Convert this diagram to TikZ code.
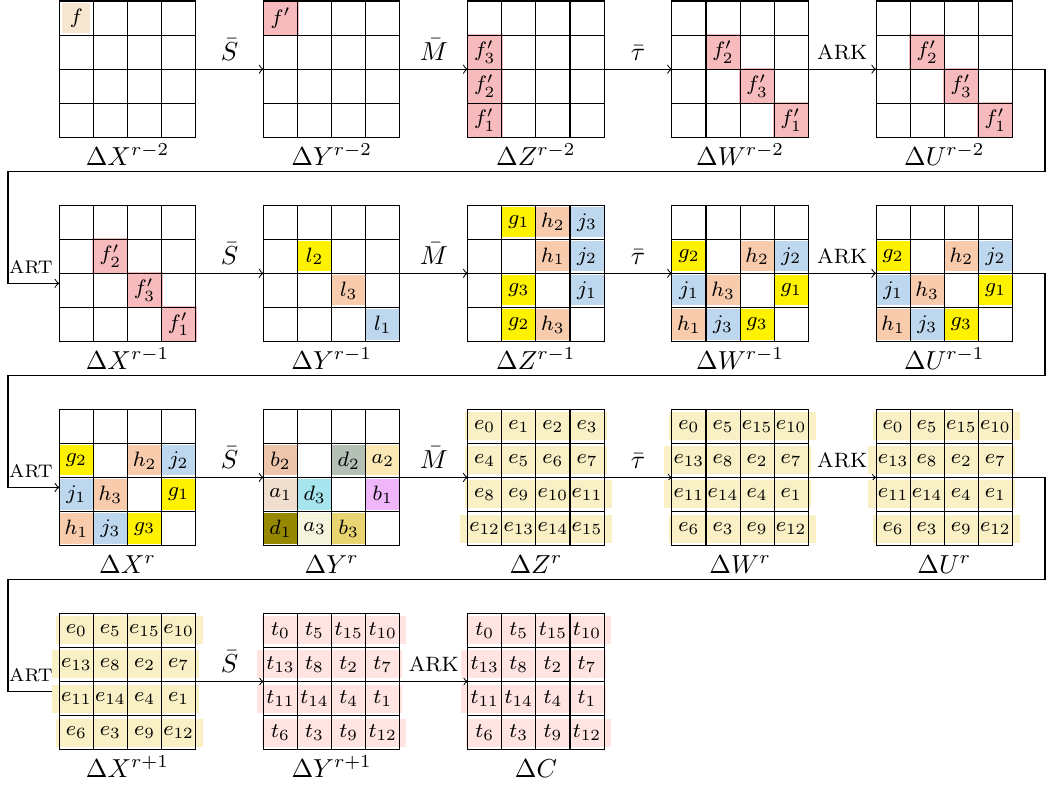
\documentclass[tikz,border=0pt]{standalone}
\usetikzlibrary{calc}
\pgfdeclarelayer{arrowlayer}
\pgfdeclarelayer{filllayer}
\pgfdeclarelayer{linelayer}
\pgfsetlayers{arrowlayer,filllayer,linelayer,main}
\definecolor{fbeige}{RGB}{248,231,208}
\definecolor{fpink}{RGB}{247,187,190}
\definecolor{gyel}{RGB}{255,242,0}
\definecolor{hpea}{RGB}{248,203,173}
\definecolor{jblu}{RGB}{189,215,238}
\definecolor{efil}{RGB}{250,240,197}
\definecolor{tfil}{RGB}{255,228,225}
\definecolor{cbtwo}{RGB}{236,197,170}
\definecolor{cdtwo}{RGB}{180,191,181}
\definecolor{catwo}{RGB}{252,232,180}
\definecolor{caone}{RGB}{240,222,207}
\definecolor{cdthree}{RGB}{166,228,238}
\definecolor{cbone}{RGB}{240,182,250}
\definecolor{cdone}{RGB}{150,136,0}
\definecolor{cathree}{RGB}{245,245,222}
\definecolor{cbthree}{RGB}{232,212,112}
\tikzset{
  gridbox/.style={draw=none, minimum size=52.46pt, inner sep=0pt, outer sep=0pt},
  gline/.style={line width=0.45pt, black},
  arr/.style={->, line width=0.4pt},
  oplab/.style={inner sep=0pt, font=\normalsize},
  arklab/.style={inner sep=0pt, font=\footnotesize},
  artlab/.style={inner sep=0pt, font=\scriptsize},
  glab/.style={inner sep=0pt, anchor=base, font=\normalsize},
  celltext/.style={inner sep=0pt, font=\footnotesize},
  ff/.style={fill=fbeige, draw=none, inner sep=0pt, minimum width=10.8pt, minimum height=11.2pt, font=\footnotesize},
  pf/.style={fill=fpink, draw=none, inner sep=0pt, minimum size=13.85pt, font=\footnotesize},
  cf/.style={fill=#1, draw=none, inner sep=0pt, minimum width=13.5pt, minimum height=11.6pt, font=\footnotesize},
  ef/.style={fill=#1, draw=none, inner xsep=3.6pt, inner ysep=0pt, minimum height=10.8pt, font=\footnotesize},
}
\newcommand\MyGrid[4]{%
  \node[gridbox] (#1) at ({127.5+204.2*#3},{69.2+204.1*#2}) {};
  \node[glab] (#1-l) at ({127.5+204.2*#3},{165+204.1*#2}) {$#4$};
}
\newcommand\MyLines[1]{%
  \draw[gline] (#1.north west) rectangle (#1.south east);
  \foreach \k in {1,2,3} {
    \draw[gline] ($(#1.north west)!\k/4!(#1.north east)$) -- ($(#1.south west)!\k/4!(#1.south east)$);
    \draw[gline] ($(#1.north west)!\k/4!(#1.south west)$) -- ($(#1.north east)!\k/4!(#1.south east)$);
  }
}
\newcommand\CellF[5]{%
  \begin{pgfonlayer}{filllayer}
  \node[#4] (#1-#2#3-f) at ($(#1.north west)+({34.1*(#3+0.5)},{34.1*(#2+0.5)})$) {\phantom{#5}};
  \end{pgfonlayer}
  \node[celltext] (#1-#2#3) at (#1-#2#3-f.center) {#5};
}
\begin{document}
\begin{tikzpicture}[x=0.3846pt, y=-0.3846pt]
\useasboundingbox (0,0) rectangle (1046,787);
% grids
\MyGrid{X0}{0}{0}{\Delta X^{r-2}}
\MyGrid{Y0}{0}{1}{\Delta Y^{r-2}}
\MyGrid{Z0}{0}{2}{\Delta Z^{r-2}}
\MyGrid{W0}{0}{3}{\Delta W^{r-2}}
\MyGrid{U0}{0}{4}{\Delta U^{r-2}}
\MyGrid{X1}{1}{0}{\Delta X^{r-1}}
\MyGrid{Y1}{1}{1}{\Delta Y^{r-1}}
\MyGrid{Z1}{1}{2}{\Delta Z^{r-1}}
\MyGrid{W1}{1}{3}{\Delta W^{r-1}}
\MyGrid{U1}{1}{4}{\Delta U^{r-1}}
\MyGrid{X2}{2}{0}{\Delta X^{r}}
\MyGrid{Y2}{2}{1}{\Delta Y^{r}}
\MyGrid{Z2}{2}{2}{\Delta Z^{r}}
\MyGrid{W2}{2}{3}{\Delta W^{r}}
\MyGrid{U2}{2}{4}{\Delta U^{r}}
\MyGrid{X3}{3}{0}{\Delta X^{r+1}}
\MyGrid{Y3}{3}{1}{\Delta Y^{r+1}}
\MyGrid{C3}{3}{2}{\Delta C}
% arrows
\begin{pgfonlayer}{arrowlayer}
\foreach \r in {0,1,2} {
  \draw[arr] (X\r.east) -- (Y\r.west);
  \draw[arr] (Y\r.east) -- (Z\r.west);
  \draw[arr] (Z\r.east) -- (W\r.west);
  \draw[arr] (W\r.east) -- (U\r.west);
}
\draw[arr] (X3.east) -- (Y3.west);
\draw[arr] (Y3.east) -- (C3.west);
\coordinate (w0r) at (1045,171.2);
\coordinate (w0l) at (8,171.2);
\coordinate (w1r) at (1045,375.4);
\coordinate (w1l) at (8,375.4);
\coordinate (w2r) at (1045,579.4);
\coordinate (w2l) at (8,579.4);
\draw[arr] (U0.east) -| (w0r) -- (w0l) |- ([yshift=-3.85pt]X1.west);
\draw[arr] (U1.east) -| (w1r) -- (w1l) |- ([yshift=-3.85pt]X2.west);
\draw[arr] (U2.east) -| (w2r) -- (w2l) |- ([yshift=-3.85pt]X3.west);
\end{pgfonlayer}
\foreach \r in {0,1,2} {
  \node[oplab, anchor=south] (s\r) at ($(X\r.east)!0.5!(Y\r.west)+(0,-8.5)$) {$\bar{S}$};
  \node[oplab, anchor=south] (m\r) at ($(Y\r.east)!0.5!(Z\r.west)+(0,-8.5)$) {$\bar{M}$};
  \node[oplab, anchor=south] (t\r) at ($(Z\r.east)!0.5!(W\r.west)+(0,-8.5)$) {$\bar{\tau}$};
  \node[arklab, anchor=south] (k\r) at ($(W\r.east)!0.5!(U\r.west)+(0,-8.8)$) {ARK};
}
\node[oplab, anchor=south] (s3) at ($(X3.east)!0.5!(Y3.west)+(0,-8.5)$) {$\bar{S}$};
\node[arklab, anchor=south] (k3) at ($(Y3.east)!0.5!(C3.west)+(0,-8.8)$) {ARK};
\node[artlab, anchor=base east] (a1) at ([xshift=-2.3pt]X1.west) {ART};
\node[artlab, anchor=base east] (a2) at ([xshift=-2.3pt]X2.west) {ART};
\node[artlab, anchor=base east] (a3) at ([xshift=-2.3pt]X3.west) {ART};
% fills row r-2
\CellF{X0}{0}{0}{ff}{$f$}
\CellF{Y0}{0}{0}{pf}{$f'$}
\CellF{Z0}{1}{0}{pf}{$f'_3$}
\CellF{Z0}{2}{0}{pf}{$f'_2$}
\CellF{Z0}{3}{0}{pf}{$f'_1$}
\foreach \g in {W0,U0,X1} {
  \CellF{\g}{1}{1}{pf}{$f'_2$}
  \CellF{\g}{2}{2}{pf}{$f'_3$}
  \CellF{\g}{3}{3}{pf}{$f'_1$}
}
% row r-1
\CellF{Y1}{1}{1}{cf=gyel}{$l_2$}
\CellF{Y1}{2}{2}{cf=hpea}{$l_3$}
\CellF{Y1}{3}{3}{cf=jblu}{$l_1$}
\CellF{Z1}{0}{1}{cf=gyel}{$g_1$}
\CellF{Z1}{0}{2}{cf=hpea}{$h_2$}
\CellF{Z1}{0}{3}{cf=jblu}{$j_3$}
\CellF{Z1}{1}{2}{cf=hpea}{$h_1$}
\CellF{Z1}{1}{3}{cf=jblu}{$j_2$}
\CellF{Z1}{2}{1}{cf=gyel}{$g_3$}
\CellF{Z1}{2}{3}{cf=jblu}{$j_1$}
\CellF{Z1}{3}{1}{cf=gyel}{$g_2$}
\CellF{Z1}{3}{2}{cf=hpea}{$h_3$}
\foreach \g in {W1,U1,X2} {
  \CellF{\g}{1}{0}{cf=gyel}{$g_2$}
  \CellF{\g}{1}{2}{cf=hpea}{$h_2$}
  \CellF{\g}{1}{3}{cf=jblu}{$j_2$}
  \CellF{\g}{2}{0}{cf=jblu}{$j_1$}
  \CellF{\g}{2}{1}{cf=hpea}{$h_3$}
  \CellF{\g}{2}{3}{cf=gyel}{$g_1$}
  \CellF{\g}{3}{0}{cf=hpea}{$h_1$}
  \CellF{\g}{3}{1}{cf=jblu}{$j_3$}
  \CellF{\g}{3}{2}{cf=gyel}{$g_3$}
}
% row r
\CellF{Y2}{1}{0}{cf=cbtwo}{$b_2$}
\CellF{Y2}{1}{2}{cf=cdtwo}{$d_2$}
\CellF{Y2}{1}{3}{cf=catwo}{$a_2$}
\CellF{Y2}{2}{0}{cf=caone}{$a_1$}
\CellF{Y2}{2}{1}{cf=cdthree}{$d_3$}
\CellF{Y2}{2}{3}{cf=cbone}{$b_1$}
\CellF{Y2}{3}{0}{cf=cdone}{$d_1$}
\CellF{Y2}{3}{1}{cf=cathree}{$a_3$}
\CellF{Y2}{3}{2}{cf=cbthree}{$b_3$}
\foreach \v [count=\n from 0] in {0,1,2,3,4,5,6,7,8,9,10,11,12,13,14,15} {
  \pgfmathtruncatemacro\ii{floor(\n/4)}
  \pgfmathtruncatemacro\jj{mod(\n,4)}
  \CellF{Z2}{\ii}{\jj}{ef=efil}{$e_{\v}$}
}
\foreach \g in {W2,U2,X3} {
  \foreach \v [count=\n from 0] in {0,5,15,10,13,8,2,7,11,14,4,1,6,3,9,12} {
    \pgfmathtruncatemacro\ii{floor(\n/4)}
    \pgfmathtruncatemacro\jj{mod(\n,4)}
    \CellF{\g}{\ii}{\jj}{ef=efil}{$e_{\v}$}
  }
}
\foreach \g in {Y3,C3} {
  \foreach \v [count=\n from 0] in {0,5,15,10,13,8,2,7,11,14,4,1,6,3,9,12} {
    \pgfmathtruncatemacro\ii{floor(\n/4)}
    \pgfmathtruncatemacro\jj{mod(\n,4)}
    \CellF{\g}{\ii}{\jj}{ef=tfil}{$t_{\v}$}
  }
}
% grid lines above fills
\begin{pgfonlayer}{linelayer}
\foreach \g in {X0,Y0,Z0,W0,U0,X1,Y1,Z1,W1,U1,X2,Y2,Z2,W2,U2,X3,Y3,C3} {
  \MyLines{\g}
}
\end{pgfonlayer}
\end{tikzpicture}
\end{document}
